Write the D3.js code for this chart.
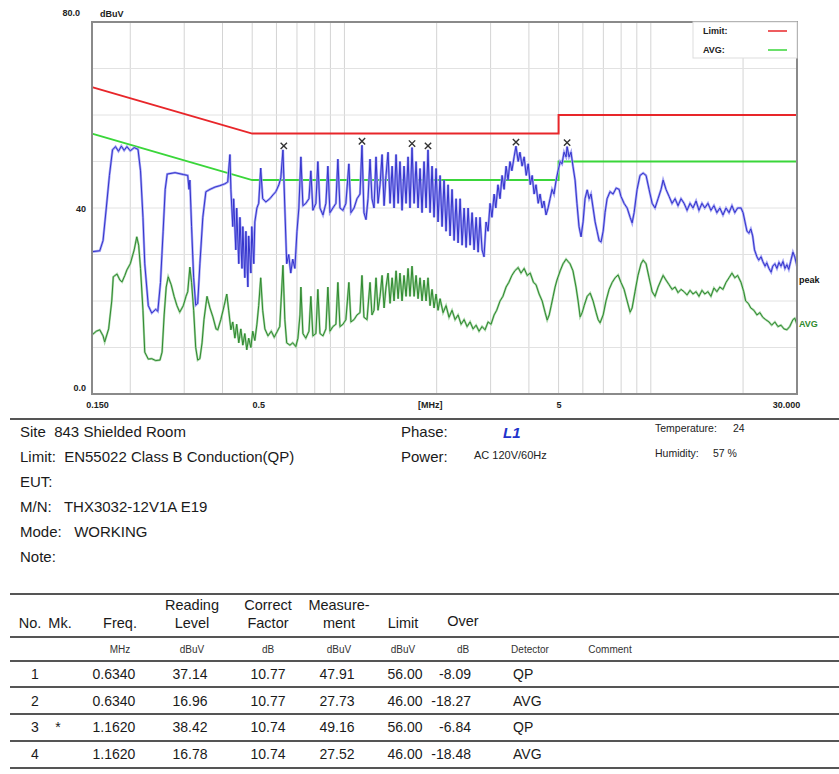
<!DOCTYPE html>
<html>
<head>
<meta charset="utf-8">
<script src="https://cdn.jsdelivr.net/npm/d3@7/dist/d3.min.js"></script>
<style>
  body { margin: 0; background: #fff; }
  svg text { font-family: Arial, "Liberation Sans", sans-serif; }
</style>
</head>
<body>
<div id="chart"></div>
<script>
// conducted emission scan, phase L1

var peakFreq = [0.150,0.159,0.163,0.167,0.171,0.175,0.179,0.183,0.187,0.191,0.195,0.200,0.206,0.212,0.216,0.220,0.223,0.229,0.235,0.242,0.246,0.251,0.256,0.260,0.264,0.280,0.298,0.308,0.311,0.313,0.317,0.322,0.327,0.332,0.3375,0.345,0.353,0.364,0.378,0.392,0.407,0.416,0.423,0.426,0.432,0.435,0.442,0.445,0.452,0.456,0.463,0.466,0.473,0.477,0.484,0.487,0.495,0.4985,0.506,0.510,0.518,0.525,0.533,0.541,0.554,0.571,0.584,0.597,0.611,0.620,0.630,0.639,0.648,0.658,0.668,0.678,0.689,0.700,0.710,0.721,0.732,0.748,0.766,0.777,0.789,0.807,0.819,0.832,0.851,0.870,0.883,0.897,0.917,0.938,0.952,0.967,0.989,1.011,1.034,1.050,1.075,1.099,1.124,1.141,1.158,1.176,1.194,1.212,1.230,1.249,1.268,1.287,1.307,1.327,1.347,1.367,1.388,1.409,1.431,1.452,1.474,1.497,1.518,1.542,1.565,1.589,1.613,1.637,1.662,1.688,1.713,1.739,1.765,1.792,1.819,1.847,1.874,1.903,1.932,1.961,1.991,2.021,2.052,2.083,2.114,2.146,2.179,2.212,2.245,2.280,2.314,2.349,2.385,2.421,2.458,2.495,2.533,2.571,2.610,2.650,2.690,2.731,2.770,2.813,2.855,2.899,2.943,2.988,3.03,3.08,3.12,3.17,3.22,3.27,3.32,3.37,3.42,3.47,3.52,3.58,3.63,3.69,3.74,3.80,3.86,3.92,3.98,4.04,4.10,4.16,4.22,4.29,4.35,4.42,4.48,4.55,4.62,4.69,4.76,4.83,4.91,4.98,5.06,5.13,5.21,5.29,5.33,5.41,5.49,5.57,5.66,5.74,5.83,5.92,6.01,6.10,6.20,6.29,6.38,6.48,6.58,6.68,6.78,6.88,6.99,7.09,7.20,7.36,7.53,7.71,7.88,7.99,8.18,8.37,8.56,8.69,8.82,9.02,9.22,9.44,9.65,9.87,10.10,10.32,10.56,10.80,10.97,11.21,11.47,11.73,12.0,12.27,12.55,12.84,13.13,13.43,13.73,14.05,14.36,14.69,15.0,15.36,15.71,16.07,16.43,16.8,17.2,17.6,18.0,18.4,18.8,19.2,19.7,20.0,20.3,20.6,20.9,21.2,21.5,21.8,22.2,22.5,22.9,23.2,23.6,23.9,24.3,24.7,25.0,25.4,25.8,26.2,26.6,27.0,27.4,27.8,28.2,28.6,29.1,29.5,30.0];
var peakLevel = [30.6,30.8,33,40,47,52.5,53.2,52.2,53.3,52.4,53.2,52.3,53.0,52.6,48,38,28,19,17.4,18.2,17.8,24,35,44,47.3,47.6,47.2,47.0,44,46,36,25,19.1,19.5,28,38,43.5,44.0,44.5,44.8,45.2,45.6,51.5,44,36,42,31,40,28,38,27,36,25,35,23,34,26,36,28,37,40,41,48.6,42,41.3,42,42.8,43.5,45,46.5,52.5,40,28,30,26,29,27,35,40,51.0,40.5,41,42,48,39.5,41,50,40,38.5,41,49,39,40,41,50.5,40,39.5,41,49.5,39,40,42,43,53.5,39,37.5,42,50.5,42,40,51,41,45,51.5,40.5,47,52,41,49,40,51.5,41,50,39.5,49,41,51,40,53,41,50,40,48.5,39,50,40,52.5,39,49,38,48.5,37,47,36,46,35,45,34,44,33,42,32.5,42,32,40,31.5,40,32,39,31,38,30.5,38,31,29.5,37,35,41,38,43,40,45,42,47,44,49,46,50,48,51,53.3,50,52,49,51,47,49.5,45,47,43,45,41,43,40,41.5,38.5,40,42,44,43,46,48,50,49.5,52,51,53.2,51,52,49,46,41,36,33.8,37,42,43.9,42,43,40,37,35,33,32.7,35,39,42,43.5,43,44.3,44,42.5,41,40,38,36.8,39,44,47,47.5,47,44,41,40,42,44,46,44,42.5,41,42,40.5,42,41,39.5,41,40,41.5,39.5,41,40,41,39.5,40.5,39,40,38.5,40,39,40.5,39,40,40,39,37,35,34.6,35.5,34,31,29.5,28.8,29.5,28.5,27.5,28.2,27,26.2,27.5,28,27,28.3,27.5,28.5,27,27.8,26.8,28.5,30.5,29.5,27.5];

var avgFreq = [0.150,0.155,0.159,0.163,0.165,0.170,0.174,0.176,0.181,0.185,0.188,0.192,0.195,0.200,0.206,0.210,0.213,0.216,0.220,0.223,0.229,0.235,0.242,0.250,0.254,0.258,0.262,0.266,0.272,0.278,0.284,0.290,0.298,0.304,0.308,0.313,0.317,0.322,0.327,0.332,0.3375,0.343,0.348,0.356,0.364,0.372,0.381,0.386,0.395,0.405,0.413,0.419,0.426,0.432,0.439,0.445,0.452,0.459,0.466,0.473,0.480,0.487,0.495,0.502,0.510,0.518,0.525,0.533,0.541,0.550,0.563,0.577,0.590,0.604,0.615,0.630,0.639,0.648,0.664,0.678,0.694,0.705,0.716,0.721,0.732,0.748,0.766,0.777,0.789,0.807,0.819,0.832,0.851,0.870,0.883,0.897,0.917,0.938,0.952,0.967,0.989,1.011,1.034,1.050,1.075,1.099,1.124,1.141,1.158,1.185,1.212,1.230,1.249,1.268,1.287,1.307,1.327,1.347,1.367,1.388,1.409,1.431,1.452,1.474,1.497,1.518,1.542,1.565,1.589,1.613,1.637,1.662,1.688,1.713,1.739,1.765,1.792,1.819,1.847,1.874,1.903,1.932,1.961,1.991,2.021,2.052,2.099,2.146,2.195,2.245,2.297,2.349,2.403,2.458,2.514,2.571,2.629,2.690,2.750,2.813,2.877,2.943,3.01,3.08,3.14,3.22,3.29,3.37,3.44,3.52,3.60,3.69,3.77,3.86,3.95,4.04,4.14,4.22,4.32,4.42,4.52,4.59,4.66,4.73,4.80,4.87,4.94,5.06,5.17,5.29,5.37,5.45,5.57,5.70,5.79,5.88,5.97,6.06,6.20,6.34,6.48,6.63,6.73,6.83,6.99,7.14,7.31,7.48,7.65,7.82,7.99,8.18,8.37,8.56,8.69,8.88,9.08,9.29,9.44,9.65,9.87,10.10,10.32,10.56,10.80,10.97,11.21,11.47,11.73,12.0,12.27,12.55,12.84,13.13,13.43,13.73,14.05,14.36,14.69,15.0,15.36,15.71,16.07,16.43,16.8,17.2,17.6,18.0,18.4,18.8,19.2,19.7,20.1,20.4,20.8,21.2,21.7,22.2,22.7,23.2,23.7,24.3,24.8,25.4,26.0,26.6,27.2,27.8,28.4,29.1,29.5,30.0];
var avgLevel = [12.7,13.5,13.8,12.5,11.2,14,20,25.2,25.8,24.5,24.1,25.5,26.7,28,31,33.8,32,27,18,9,7.5,7.6,7.2,7.3,9,17,23,25.2,23.5,21,19,17.6,19,21,22,27.3,24,18,10,7.3,7.6,11,16,21,18.5,16.6,14,13.8,16,19,21.5,18,13.8,15.5,12,15,11,14,10.5,13,9.5,12,10,13.5,11.5,15,19,25,18,14,12.5,13.5,12.2,13.5,14.5,27.7,16,11,10.5,11,10.2,12,17,23,13,12,13.5,21,12.5,13,22.5,13,12.5,14,23,13.5,14.5,15,24,14.5,15,16,24,15.5,16,17,17.5,25.5,16.5,16,24,17,18,25,18,21,25.5,18.5,23,26,19.5,25,20,26.5,20.5,26,20,25.5,21,27,21,27.5,21,25.5,20.5,25,20,24.5,20,25,19,22.5,18.5,21.5,18,20.5,17.5,19,16.5,18,16,17,15,16,14.5,15.5,14,14.8,13.5,14.5,13.8,15.5,15,17,18,20,21,23,24,25.5,26.5,27.2,26,27,25.5,26,24,23.5,21.5,20,17.5,15.9,17,19,21,23,24.5,26.5,28,29,28.5,28,26.5,23,20,16.6,17.5,19,21,21.7,20,17.5,16,15.3,17,20,22.5,24,25,25.6,24,22.5,20,17.6,18.5,22,25.5,28,28.8,28,25,22,21,23,24.5,25.5,24.5,23.5,22.5,23,21.8,22.5,22,21.3,22.3,21.5,22,21,22.3,21.5,22,21,22.8,22,23,22.5,24,25,26,25,25.5,24,22,20,19.5,18.5,18,17,17.5,16.5,16,15.5,14.8,15.5,14.5,14.8,14,13.8,14.5,16,16.3,15];

// EN55022 class B limits
var limitFreq = [0.15, 0.5, 0.5, 5, 5, 30];
var qpLimit = [66, 56, 56, 56, 60, 60];
var avgLimit = [56, 46, 46, 46, 50, 50];

// pre-scan marks
var markerFreq = [0.634, 1.141, 1.662, 1.874, 3.63, 5.33];
var markerLevel = [52.5, 53.5, 53.0, 52.5, 53.3, 53.2];

var gridFreqs = [0.2,0.3,0.4,0.5,0.6,0.7,0.8,0.9,1,2,3,4,5,6,7,8,9,10,20];
var gridLevels = [10,20,30,40,50,60,70];
var xTickFreqs = [0.15, 0.5, 1.9, 5, 30];
var xTickLabels = ["0.150", "0.5", "[MHz]", "5", "30.000"];
var yTickLevels = [0, 40, 80];
var yTickLabels = ["0.0", "40", "80.0"];

var infoLeft = ["Site  843 Shielded Room", "Limit:  EN55022 Class B Conduction(QP)", "EUT:", "M/N:   THX3032-12V1A E19", "Mode:   WORKING", "Note:"];

var colNames1 = ["", "", "", "Reading", "Correct", "Measure-", "", ""];
var colNames2 = ["No.", "Mk.", "Freq.", "Level", "Factor", "ment", "Limit", "Over"];
var colUnits = ["", "", "MHz", "dBuV", "dB", "dBuV", "dBuV", "dB", "Detector", "Comment"];
var rowNo = ["1", "2", "3", "4"];
var rowMark = ["", "", "*", ""];
var rowFreq = ["0.6340", "0.6340", "1.1620", "1.1620"];
var rowReading = ["37.14", "16.96", "38.42", "16.78"];
var rowFactor = ["10.77", "10.77", "10.74", "10.74"];
var rowMeasure = ["47.91", "27.73", "49.16", "27.52"];
var rowLimit = ["56.00", "46.00", "56.00", "46.00"];
var rowOver = ["-8.09", "-18.27", "-6.84", "-18.48"];
var rowDetector = ["QP", "AVG", "QP", "AVG"];

var svg = d3.select("#chart").append("svg")
  .attr("width", 839)
  .attr("height", 774);

var plotLeft = 92, plotRight = 797, plotTop = 22, plotBottom = 394;

var x = d3.scaleLog().domain([0.15, 30]).range([plotLeft, plotRight]);
var y = d3.scaleLinear().domain([0, 80]).range([plotBottom, plotTop]);

// grid
svg.append("g").selectAll("line")
  .data(gridFreqs)
  .enter().append("line")
    .attr("x1", d => x(d)).attr("x2", d => x(d))
    .attr("y1", plotTop).attr("y2", plotBottom)
    .attr("stroke", "#d4d4d4").attr("stroke-width", 1);

svg.append("g").selectAll("line")
  .data(gridLevels)
  .enter().append("line")
    .attr("x1", plotLeft).attr("x2", plotRight)
    .attr("y1", d => y(d)).attr("y2", d => y(d))
    .attr("stroke", "#e2e2e2").attr("stroke-width", 1);

function trace(fs, vs) {
  return fs.map(function(f, i) { return [f, vs[i]]; });
}

var line = d3.line().x(d => x(d[0])).y(d => y(d[1]));

// limits
svg.append("path").datum(trace(limitFreq, qpLimit))
  .attr("d", line).attr("fill", "none")
  .attr("stroke", "#e8262a").attr("stroke-width", 2);

svg.append("path").datum(trace(limitFreq, avgLimit))
  .attr("d", line).attr("fill", "none")
  .attr("stroke", "#3ad63a").attr("stroke-width", 2);

// avg trace
svg.append("path").datum(trace(avgFreq, avgLevel))
  .attr("d", line).attr("fill", "none")
  .attr("stroke", "#a6d4a6").attr("stroke-width", 2.2);
svg.append("path").datum(trace(avgFreq, avgLevel))
  .attr("d", line).attr("fill", "none")
  .attr("stroke", "#2f8a2f").attr("stroke-width", 1);

// peak trace
svg.append("path").datum(trace(peakFreq, peakLevel))
  .attr("d", line).attr("fill", "none")
  .attr("stroke", "#a4a4f4").attr("stroke-width", 2.4);
svg.append("path").datum(trace(peakFreq, peakLevel))
  .attr("d", line).attr("fill", "none")
  .attr("stroke", "#3434cc").attr("stroke-width", 1);

// markers
svg.append("g").selectAll("path")
  .data(trace(markerFreq, markerLevel))
  .enter().append("path")
    .attr("transform", d => "translate(" + x(d[0]) + "," + (y(d[1]) - 4) + ")")
    .attr("d", d3.symbol(d3.symbolX, 28))
    .attr("fill", "none")
    .attr("stroke", "#333").attr("stroke-width", 1.4);

// frame
svg.append("rect")
  .attr("x", plotLeft).attr("y", plotTop)
  .attr("width", plotRight - plotLeft).attr("height", plotBottom - plotTop)
  .attr("fill", "none").attr("stroke", "#8a8a8a").attr("stroke-width", 2);

// legend
var lg = svg.append("g").attr("transform", "translate(693," + plotTop + ")");
lg.append("rect").attr("width", plotRight - 693).attr("height", 36)
  .attr("fill", "#fff").attr("stroke", "#ddd");
lg.append("text").attr("x", 10).attr("y", 12).text("Limit:")
  .attr("font-size", 9).attr("font-weight", "bold").attr("fill", "#222");
lg.append("text").attr("x", 10).attr("y", 31).text("AVG:")
  .attr("font-size", 9).attr("font-weight", "bold").attr("fill", "#222");
lg.append("line").attr("x1", 75).attr("x2", 94).attr("y1", 9).attr("y2", 9)
  .attr("stroke", "#e8262a").attr("stroke-width", 1.5);
lg.append("line").attr("x1", 75).attr("x2", 94).attr("y1", 28).attr("y2", 28)
  .attr("stroke", "#3ad63a").attr("stroke-width", 1.5);

// axes labels
var xAxis = d3.axisBottom(x).tickValues(xTickFreqs)
  .tickFormat((d, i) => xTickLabels[i]).tickSize(0);
var gx = svg.append("g").attr("transform", "translate(0," + plotBottom + ")").call(xAxis);
gx.select(".domain").remove();
gx.selectAll("text")
  .attr("font-size", 9).attr("font-weight", "bold").attr("fill", "#222")
  .attr("dy", "1.25em")
  .attr("dx", (d, i) => [5, 6, 0, 0, -11][i]);

var yAxis = d3.axisLeft(y).tickValues(yTickLevels)
  .tickFormat((d, i) => yTickLabels[i]).tickSize(0);
var gy = svg.append("g").attr("transform", "translate(" + (plotLeft - 3) + ",0)").call(yAxis);
gy.select(".domain").remove();
gy.selectAll("text")
  .attr("font-size", 9).attr("font-weight", "bold").attr("fill", "#222")
  .attr("dy", (d, i) => [-4, 3, -7][i])
  .attr("dx", (d, i) => [0, 0, -6][i]);

svg.append("text").attr("x", 100).attr("y", 17).text("dBuV")
  .attr("font-size", 9).attr("font-weight", "bold").attr("fill", "#222");

svg.append("text").attr("x", plotRight + 2).attr("y", y(peakLevel[peakLevel.length - 1]) + 17)
  .text("peak").attr("font-size", 9).attr("font-weight", "bold").attr("fill", "#111");
svg.append("text").attr("x", plotRight + 2).attr("y", y(avgLevel[avgLevel.length - 1]) + 3)
  .text("AVG").attr("font-size", 9).attr("font-weight", "bold").attr("fill", "#2f8a2f");

// info block
function hline(yy, w) {
  svg.append("line").attr("x1", 10).attr("x2", 839).attr("y1", yy).attr("y2", yy)
    .attr("stroke", "#555").attr("stroke-width", w || 2);
}
hline(419);

svg.append("g").selectAll("text")
  .data(infoLeft)
  .enter().append("text")
    .attr("x", 20).attr("y", (d, i) => 437 + i * 25)
    .attr("font-size", 15).attr("fill", "#1a1a1a")
    .style("white-space", "pre")
    .text(d => d);

svg.append("text").attr("x", 401).attr("y", 437).text("Phase:").attr("font-size", 15).attr("fill", "#1a1a1a");
svg.append("text").attr("x", 401).attr("y", 462).text("Power:").attr("font-size", 15).attr("fill", "#1a1a1a");
svg.append("text").attr("x", 503).attr("y", 438).text("L1")
  .attr("font-size", 15).attr("font-weight", "bold").attr("font-style", "italic").attr("fill", "#2233cc");
svg.append("text").attr("x", 474).attr("y", 459).text("AC 120V/60Hz").attr("font-size", 11).attr("fill", "#222");
svg.append("text").attr("x", 655).attr("y", 432).text("Temperature:").attr("font-size", 10.5).attr("fill", "#222");
svg.append("text").attr("x", 733).attr("y", 432).text("24").attr("font-size", 10.5).attr("fill", "#222");
svg.append("text").attr("x", 655).attr("y", 457).text("Humidity:").attr("font-size", 10.5).attr("fill", "#222");
svg.append("text").attr("x", 713).attr("y", 457).text("57 %").attr("font-size", 10.5).attr("fill", "#222");

// table
var colX = [30, 60, 120, 192, 268, 339, 403, 463];
[594, 637, 661, 687, 714, 741, 768].forEach(function(yy) { hline(yy); });

svg.append("g").selectAll("text").data(colNames1).enter().append("text")
  .attr("x", (d, i) => colX[i]).attr("y", 610).attr("text-anchor", "middle")
  .attr("font-size", 14.5).attr("fill", "#1a1a1a").text(d => d);
svg.append("g").selectAll("text").data(colNames2).enter().append("text")
  .attr("x", (d, i) => colX[i]).attr("y", (d, i) => i === 7 ? 626 : 628).attr("text-anchor", "middle")
  .attr("font-size", 14.5).attr("fill", "#1a1a1a").text(d => d);

var unitX = colX.concat([530, 610]);
svg.append("g").selectAll("text").data(colUnits).enter().append("text")
  .attr("x", (d, i) => unitX[i]).attr("y", 653).attr("text-anchor", "middle")
  .attr("font-size", 10).attr("fill", "#333").text(d => d);

var rowY = [679, 706, 732, 759];
var cols = [
  { v: rowNo, x: 35, a: "middle" },
  { v: rowMark, x: 58, a: "middle" },
  { v: rowFreq, x: 114, a: "middle" },
  { v: rowReading, x: 190, a: "middle" },
  { v: rowFactor, x: 268, a: "middle" },
  { v: rowMeasure, x: 337, a: "middle" },
  { v: rowLimit, x: 405, a: "middle" },
  { v: rowOver, x: 471, a: "end" },
  { v: rowDetector, x: 513, a: "start" }
];
cols.forEach(function(c) {
  svg.append("g").selectAll("text").data(c.v).enter().append("text")
    .attr("x", c.x).attr("y", (d, i) => rowY[i]).attr("text-anchor", c.a)
    .attr("font-size", 14).attr("fill", "#1a1a1a").text(d => d);
});
</script>
</body>
</html>
